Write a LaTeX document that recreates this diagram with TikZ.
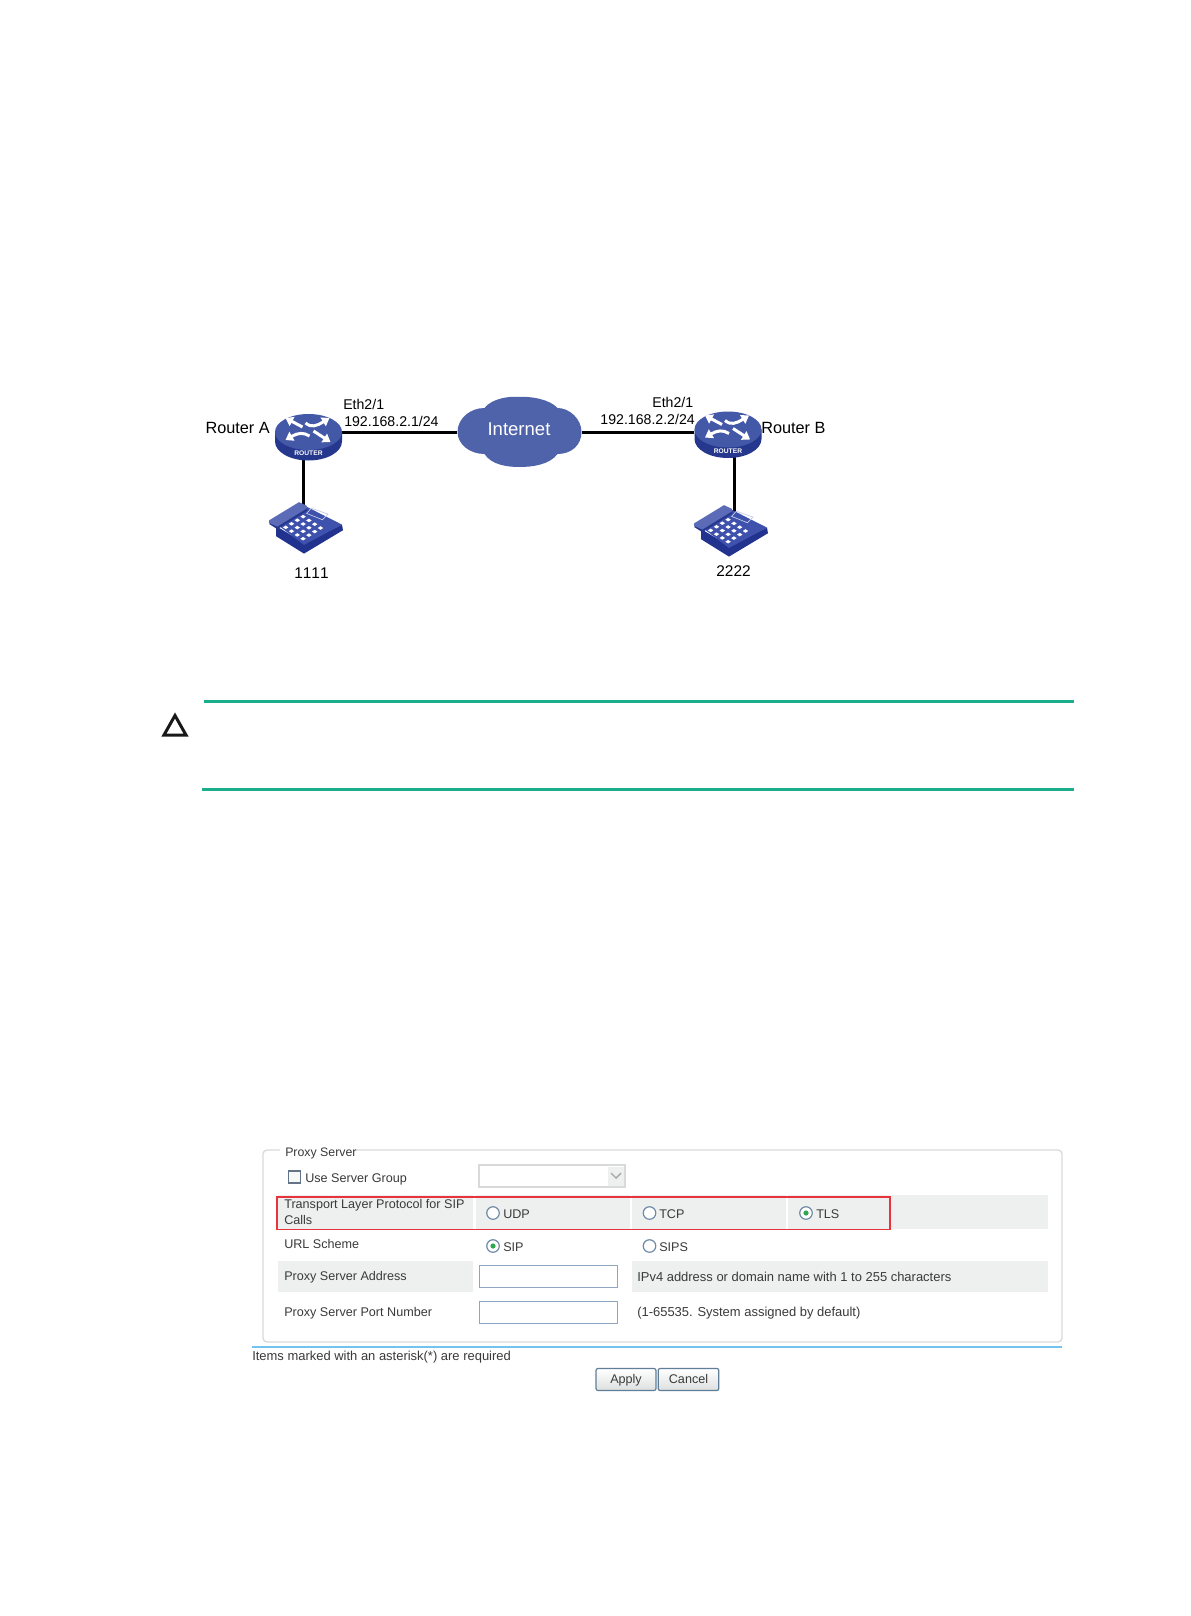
\documentclass[tikz,border=0pt]{standalone}
\usepackage{fontspec}
\setmainfont{Liberation Sans}
\newfontfamily\nokernfont[Kerning=Off]{Liberation Sans}
\usetikzlibrary{arrows.meta,shapes.geometric}
\definecolor{cloudblue}{HTML}{4F63AA}
\definecolor{rtop}{HTML}{4458A8}
\definecolor{rside}{HTML}{26388E}
\definecolor{ptop}{HTML}{3E51AC}
\definecolor{pside}{HTML}{22338F}
\definecolor{hpgreen}{HTML}{1BAE8C}
\definecolor{band}{HTML}{EEF0F0}
\definecolor{fieldb}{HTML}{D8DADA}
\definecolor{inputb}{HTML}{8FA6C2}
\definecolor{ftext}{HTML}{3A3A3A}
\definecolor{redbox}{HTML}{E8323C}
\definecolor{skyline}{HTML}{72C4EE}
\definecolor{btnb}{HTML}{5F7F98}
\definecolor{radiob}{HTML}{6F8AA6}
\definecolor{radiog}{HTML}{2FA84F}
\tikzset{
  px/.style={line width=#1*0.75pt},
  netlabel/.style={inner sep=0pt,font=\fontsize{10.6pt}{12pt}\selectfont,text=black},
  biglabel/.style={inner sep=0pt,font=\fontsize{12.2pt}{14pt}\selectfont,text=black},
  numlabel/.style={inner sep=0pt,font=\nokernfont\fontsize{11.6pt}{13pt}\selectfont,text=black},
  formtext/.style={inner sep=0pt,anchor=west,yshift=-0.75pt,font=\fontsize{9.45pt}{11pt}\selectfont,text=ftext},
  helptext/.style={formtext,font=\fontsize{9.72pt}{11pt}\selectfont},
  link/.style={draw=black,px=3},
  routernode/.style={ellipse,inner sep=0pt,minimum width=50.25pt,minimum height=27pt},
  cloudnode/.style={inner sep=0pt,minimum width=93pt,minimum height=52.5pt},
  radiobtn/.style={circle,draw=radiob,px=1.2,fill=white,inner sep=0pt,minimum size=9.4pt},
  inputbox/.style={draw=inputb,px=1,fill=white},
  formbtn/.style={draw=btnb,px=1.2,rounded corners=1.5pt,top color=white,bottom color=band!85!gray,
    inner sep=0pt,minimum height=16.5pt,text height=7pt,text depth=1.5pt,text=ftext,font=\fontsize{9.45pt}{11pt}\selectfont},
  rarrow/.style={draw=white,px=3,-{Triangle[length=5.6pt,width=7.4pt]}},
  routericon/.pic={
    \fill[rside] (-33.5,0) -- (-33.5,9.5) arc[x radius=33.5,y radius=19,start angle=180,end angle=0] -- (33.5,0) -- cycle;
    \fill[rtop] (0,0) ellipse[x radius=33.5,y radius=18];
    \draw[rarrow] (-6,-5) -- (-23,-14);
    \draw[rarrow] (-3,-9) .. controls (3,-4) and (8,-6) .. (21,-14);
    \draw[rarrow] (1,4) .. controls (-5,0) and (-11,1) .. (-23,8);
    \draw[rarrow] (5,-1) -- (22,10);
    \node[inner sep=0pt,text=white,font=\fontsize{5pt}{5pt}\bfseries\selectfont] at (0,21.5) {ROUTER};
  },
  phoneicon/.pic={
    \begin{scope}[yscale=1.05]
    \fill[pside] (-30,0) -- (-30,9.7) -- (-2,26.3) -- (37,4) -- (36,-1.3) -- (-2,16) -- cycle;
    \fill[ptop] (-28.7,-1.3) -- (1.3,-18) -- (36,-1.3) -- (-2,18) -- cycle;
    \fill[rside] (-37,-2) -- (-28.7,3) -- (1.3,-14.5) -- (1.3,-18) -- (-7,-20) -- cycle;
    \fill[ptop!85!white] (-37,-5.3) -- (-7,-22.7) -- (.7,-19.3) -- (1.3,-17) -- (-28.7,0.5) -- (-37,-3) -- cycle;
    \draw[white!70!ptop,px=.7] (.7,-12) -- (5.3,-17) -- (22,-11.3) -- (16.3,-6) -- cycle;
    \foreach \i in {0,1,2,3} \foreach \j in {0,1,2,3}
      \fill[white] ({-20.3+\i*5.8+\j*5.8},{1.3-\i*3.4+\j*3.6}) ++(-2.7,0) -- ++(2.7,-1.7) -- ++(2.7,1.7) -- ++(-2.7,1.7) -- cycle;
    \end{scope}
  }
}
\begin{document}
\begin{tikzpicture}[x=0.75pt,y=-0.75pt]
\useasboundingbox (0,0) rectangle (1190,1616);
\fill[white] (0,0) rectangle (1190,1616);

% ---------- network ----------
\node[routernode] (ra) at (308.5,432) {};
\node[routernode] (rb) at (728,429.5) {};
\node[cloudnode] (cloud) at (519.5,432) {};
\coordinate (raS) at (303,450);
\coordinate (rbS) at (734,447);
\coordinate (paN) at (303,505);
\coordinate (pbN) at (734,512);
\draw[link] (ra.east) -- (cloud.west);
\draw[link] (cloud.east) -- (cloud.east -| rb.west);
\draw[link] (raS) -- (paN);
\draw[link] (rbS) -- (pbN);
\begin{scope}[shift={(cloud.center)}]
\fill[cloudblue] (-35,-24)
  .. controls (-28,-33) and (-12,-36) .. (-1,-35)
  .. controls (10,-36) and (30,-33) .. (38,-24)
  .. controls (50,-24) and (62,-13) .. (62,0)
  .. controls (62,13) and (52,22) .. (38,22)
  .. controls (30,33) and (12,35) .. (0,35)
  .. controls (-12,35) and (-28,33) .. (-35,22)
  .. controls (-50,22) and (-62,12) .. (-62,0)
  .. controls (-62,-13) and (-50,-24) .. (-35,-24) -- cycle;
\end{scope}
\node[inner sep=0pt,text=white,font=\fontsize{13.9pt}{15pt}\selectfont] (inet) at (519,429) {Internet};
\pic at (ra.center) {routericon};
\pic at (rb.center) {routericon};
\pic at (306,526) {phoneicon};
\pic at (731,529) {phoneicon};

\node[biglabel,anchor=east] (la) at (270,428) {Router A};
\node[biglabel,anchor=west] (lb) at (761,428) {Router B};
\node[netlabel,anchor=west] (ea) at (343,404) {Eth2/1};
\node[netlabel,anchor=west] (ipa) at (344,421) {192.168.2.1/24};
\node[netlabel,anchor=east] (eb) at (693.5,402) {Eth2/1};
\node[netlabel,anchor=east] (ipb) at (695,419) {192.168.2.2/24};
\node[numlabel] (na) at (311.5,573) {1111};
\node[numlabel] (nb) at (733.5,571) {2222};

% ---------- caution ----------
\coordinate (c1a) at (204,701); \coordinate (c1b) at (1073.5,701);
\coordinate (c2a) at (202,789); \coordinate (c2b) at (1073.5,789);
\draw[hpgreen,px=3] (c1a) -- (c1b);
\draw[hpgreen,px=3] (c2a) -- (c2b);
\draw[black!90,px=3,miter limit=10] (175,715.5) -- (186,735) -- (164,735) -- cycle;

% ---------- form ----------
\draw[fieldb,px=1.3,rounded corners=3pt] (280,1150) -- (263,1150) -- (263,1342) -- (1062,1342) -- (1062,1150) -- (355,1150);
\node[formtext,font=\fontsize{9.25pt}{11pt}\selectfont] (legend) at (285,1152) {Proxy Server};

% bands
\fill[band] (278,1195) rectangle (473,1229);
\fill[band] (475.5,1195) rectangle (629.5,1229);
\fill[band] (632,1195) rectangle (786,1229);
\fill[band] (788,1195) rectangle (1048,1229);
\fill[band] (278,1261) rectangle (473,1292);
\fill[band] (631.5,1261) rectangle (1048,1292);

% row: server group
\node[draw=inputb!70!black,px=1.3,fill=band!50!white,inner sep=0pt,minimum size=9.2pt] (cb) at (294.5,1177) {};
\node[formtext] (tg) at (305,1178) {Use Server Group};
\draw[fieldb,px=1.4,fill=white] (479,1165) rectangle (625,1187);
\fill[band] (608,1167) rectangle (624,1186);
\draw[gray!70,px=1.4] (611,1173) -- (616,1178) -- (621,1173);

% row: transport
\node[formtext] (t1a) at (284,1204.5) {Transport Layer Protocol for SIP};
\node[formtext] (t1b) at (284,1219) {Calls};
\node[radiobtn] (rudp) at (493,1213) {};
\node[formtext] (tudp) at (503,1213.5) {UDP};
\node[radiobtn] (rtcp) at (649.5,1213) {};
\node[formtext] (ttcp) at (659,1213.5) {TCP};
\node[radiobtn] (rtls) at (806,1213) {};
\fill[radiog] (rtls.center) circle[radius=2.6];
\node[formtext] (ttls) at (816,1213.5) {TLS};
\draw[redbox,px=1.4] (277,1197) rectangle (890,1229.5);

% row: URL
\node[formtext] (t2) at (284,1243) {URL Scheme};
\node[radiobtn] (rsip) at (493,1246) {};
\fill[radiog] (rsip.center) circle[radius=2.6];
\node[formtext] (tsip) at (503,1246.5) {SIP};
\node[radiobtn] (rsips) at (649.5,1246) {};
\node[formtext] (tsips) at (659,1246.5) {SIPS};

% row: address
\node[formtext] (t3) at (284,1276) {Proxy Server Address};
\draw[inputbox] (479,1265.5) rectangle (617.5,1287.5);
\node[helptext] (t3b) at (637,1276) {IPv4 address or domain name with 1 to 255 characters};

% row: port
\node[formtext] (t4) at (284,1312) {Proxy Server Port Number};
\draw[inputbox] (479,1301.5) rectangle (617.5,1323.5);
\node[helptext] (t4b) at (637,1312) {(1-65535. System assigned by default)};

% footer
\coordinate (bla) at (252,1347); \coordinate (blb) at (1062,1347);
\draw[skyline,px=1.6] (bla) -- (blb);
\node[helptext] (items) at (252,1356) {Items marked with an asterisk(*) are required};
\node[formbtn,minimum width=45pt] (apply) at (626,1379.5) {Apply};
\node[formbtn,minimum width=45.5pt] (cancel) at (688.5,1379.5) {Cancel};
\end{tikzpicture}
\end{document}
